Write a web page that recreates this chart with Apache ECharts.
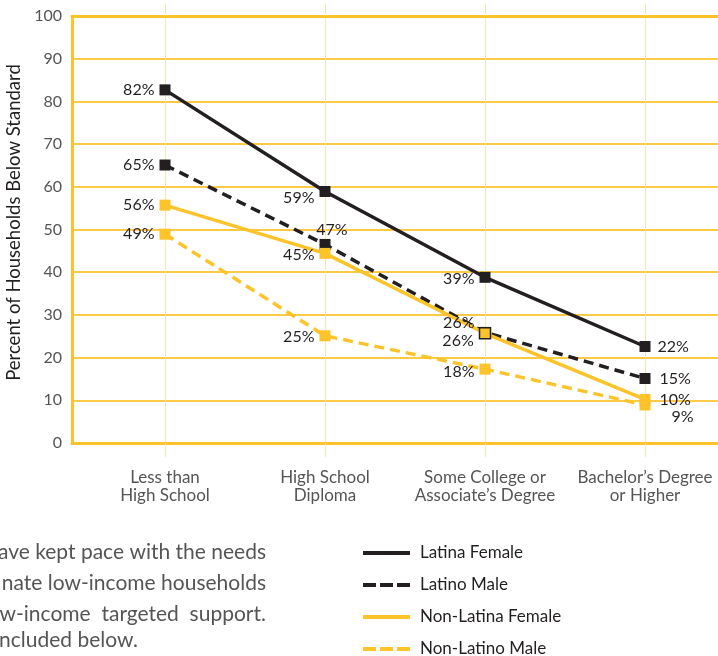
<!DOCTYPE html>
<html>
<head>
<meta charset="utf-8">
<script src="https://cdn.jsdelivr.net/npm/echarts@6/dist/echarts.min.js"></script>
<style>
html,body{margin:0;padding:0;background:#fff;}
#chart{width:718px;height:656px;}
</style>
</head>
<body>
<div id="chart"></div>
<script>
// ---- data ----
const categories = ['Less than\nHigh School', 'High School\nDiploma', 'Some College or\nAssociate\u2019s Degree', 'Bachelor\u2019s Degree\nor Higher'];
const seriesNames = ['Latina Female', 'Latino Male', 'Non-Latina Female', 'Non-Latino Male'];
const latinaFemale = [82.7, 58.9, 38.8, 22.6];
const latinoMale = [65.1, 46.5, 25.9, 15.1];
const nonLatinaFemale = [55.7, 44.4, 25.7, 10.2];
const nonLatinoMale = [48.9, 25.1, 17.3, 8.9];
const latinaFemaleLabels = ['82%', '59%', '39%', '22%'];
const latinoMaleLabels = ['65%', '47%', '26%', '15%'];
const nonLatinaFemaleLabels = ['56%', '45%', '26%', '10%'];
const nonLatinoMaleLabels = ['49%', '25%', '18%', '9%'];
const yTicks = [0, 10, 20, 30, 40, 50, 60, 70, 80, 90, 100];
const bodyLines = ['ave kept pace with the needs', 'nate low-income households', 'w-income  targeted  support.', 'ncluded below.'];

// ---- styles ----
const BLACK = '#231f20';
const YELLOW = '#fdc32b';
const GRID = '#fdca45';
const PALE = '#fde7b0';
const FONT = 'Lato, "Noto Sans", sans-serif';
const xIdx = categories.map((c, i) => i);

const labelCfg = {
  'Latina Female': [
    {position: 'left', distance: 5},
    {position: 'left', distance: 5, offset: [0, 6]},
    {position: 'left', distance: 5, offset: [0, 2]},
    {position: 'right', distance: 7}
  ],
  'Latino Male': [
    {position: 'left', distance: 5},
    {position: 'top', distance: 1, offset: [7, 0]},
    {position: 'left', distance: 5, offset: [0, -10]},
    {position: 'right', distance: 9}
  ],
  'Non-Latina Female': [
    {position: 'left', distance: 5},
    {position: 'left', distance: 5, offset: [0, 1]},
    {position: 'left', distance: 5, offset: [0, 8]},
    {position: 'right', distance: 9}
  ],
  'Non-Latino Male': [
    {position: 'left', distance: 5},
    {position: 'left', distance: 5, offset: [0, 1]},
    {position: 'left', distance: 5, offset: [0, 3]},
    {position: 'right', distance: 9, offset: [12, 12]}
  ]
};

function buildData(name, vals, labels, special) {
  return vals.map((v, i) => {
    const item = {
      value: [xIdx[i], v],
      label: Object.assign({show: true, formatter: labels[i], color: BLACK, fontSize: 16, fontFamily: FONT}, labelCfg[name][i])
    };
    if (special && special[i]) item.itemStyle = special[i];
    return item;
  });
}

function mkSeries(name, vals, labels, color, dashed, special) {
  return {
    name: name,
    type: 'line',
    symbol: 'rect',
    symbolSize: 11,
    color: color,
    lineStyle: {color: color, width: 3.5, type: dashed ? [10, 6] : 'solid'},
    itemStyle: {color: color},
    emphasis: {disabled: true},
    data: buildData(name, vals, labels, special)
  };
}

const chart = echarts.init(document.getElementById('chart'), null, {renderer: 'canvas'});
const xMin = -0.58125, xMax = 3.45625;

const option = {
  animation: false,
  backgroundColor: '#fff',
  grid: {left: 72, right: 0, top: 16, bottom: 213, containLabel: false, outerBoundsMode: 'none'},
  xAxis: [{
    type: 'value', min: xMin, max: xMax, position: 'bottom',
    axisLine: {show: true, onZero: false, lineStyle: {color: YELLOW, width: 3}},
    axisTick: {show: true, customValues: xIdx, length: 14, inside: false, lineStyle: {color: PALE, width: 1}},
    axisLabel: {customValues: xIdx, formatter: v => categories[Math.round(v)], color: '#555', fontSize: 17, lineHeight: 18, fontFamily: FONT, margin: 26, hideOverlap: false},
    splitLine: {show: true, lineStyle: {color: PALE, width: 1}}
  }, {
    type: 'value', min: xMin, max: xMax, position: 'top',
    axisLine: {show: true, onZero: false, lineStyle: {color: YELLOW, width: 3}},
    axisTick: {show: true, customValues: xIdx, length: 12, inside: false, lineStyle: {color: PALE, width: 1}},
    axisLabel: {show: false},
    splitLine: {show: false}
  }],
  yAxis: {
    type: 'value', min: 0, max: 100, interval: 10,
    name: 'Percent of Households Below Standard', nameLocation: 'middle', nameGap: 37, nameRotate: 90,
    nameTextStyle: {color: BLACK, fontSize: 18.5, fontFamily: FONT, padding: [0, 0, 0, 14]},
    axisLine: {show: true, onZero: false, lineStyle: {color: YELLOW, width: 3}},
    axisTick: {show: false},
    axisLabel: {color: '#555', fontSize: 16, fontFamily: FONT, margin: 10, formatter: v => yTicks.includes(v) ? String(v) : ''},
    splitLine: {show: true, lineStyle: {color: GRID, width: 2}}
  },
  legend: {
    orient: 'vertical', left: 356, top: 539, height: 200,
    itemWidth: 47, itemHeight: 4, itemGap: 14,
    textStyle: {color: BLACK, fontSize: 17, fontFamily: FONT, lineHeight: 18, padding: [0, 0, 0, 5]},
    data: [
      {name: seriesNames[0], lineStyle: {width: 4, type: 'solid'}},
      {name: seriesNames[1], lineStyle: {width: 4, type: [13, 4]}},
      {name: seriesNames[2], lineStyle: {width: 4, type: 'solid'}},
      {name: seriesNames[3], lineStyle: {width: 4, type: [13, 4]}}
    ],
    selectedMode: false
  },
  graphic: bodyLines.map((t, i) => ({
    type: 'text',
    silent: true,
    style: {
      text: t,
      x: i < 3 ? 266 : -1,
      y: [552, 583, 614, 640][i],
      textAlign: i < 3 ? 'right' : 'left',
      textVerticalAlign: 'middle',
      fill: '#555',
      font: '21px ' + FONT
    }
  })),
  series: [
    mkSeries(seriesNames[0], latinaFemale, latinaFemaleLabels, BLACK, false),
    mkSeries(seriesNames[1], latinoMale, latinoMaleLabels, BLACK, true),
    mkSeries(seriesNames[2], nonLatinaFemale, nonLatinaFemaleLabels, YELLOW, false, {2: {color: YELLOW, borderColor: BLACK, borderWidth: 1.5}}),
    mkSeries(seriesNames[3], nonLatinoMale, nonLatinoMaleLabels, YELLOW, true)
  ]
};
chart.setOption(option);
</script>
</body>
</html>
